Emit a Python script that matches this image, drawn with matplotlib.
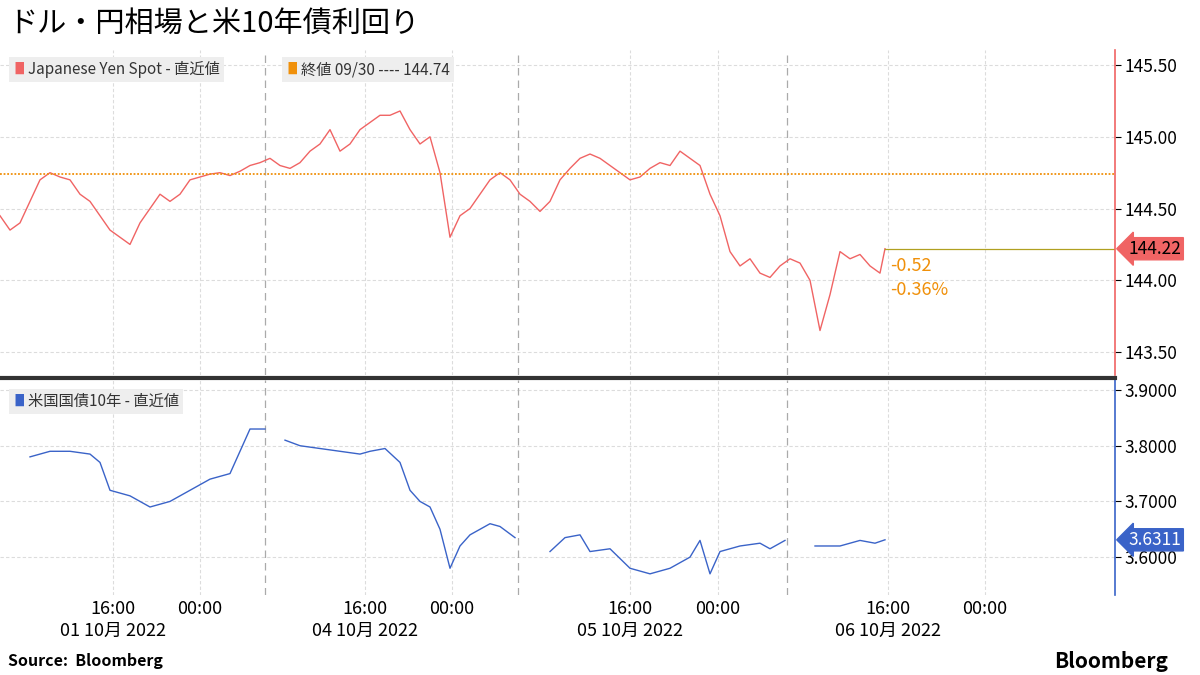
import matplotlib
matplotlib.use("Agg")
import matplotlib.pyplot as plt

plt.rcParams['font.family'] = ['Noto Sans CJK JP', 'DejaVu Sans']

yen_x = list(range(0, 890, 10)) + [885]
yen_y = [144.45,144.35,144.4,144.55,144.7,144.75,144.72,144.7,144.6,144.55,144.45,144.35,144.3,144.25,144.4,144.5,
         144.6,144.55,144.6,144.7,144.72,144.74,144.75,144.73,144.76,144.8,144.82,144.85,144.8,144.78,144.82,144.9,
         144.95,145.05,144.9,144.95,145.05,145.1,145.15,145.15,145.18,145.05,144.95,145.0,144.75,144.3,144.45,144.5,
         144.6,144.7,144.75,144.7,144.6,144.55,144.48,144.55,144.7,144.78,144.85,144.88,144.85,144.8,144.75,144.7,
         144.72,144.78,144.82,144.8,144.9,144.85,144.8,144.6,144.45,144.2,144.1,144.15,144.05,144.02,144.1,144.15,
         144.12,144.0,143.65,143.9,144.2,144.15,144.18,144.1,144.05,144.22]

ust_segments = [
    ([30,50,70,90,100,110,130,150,170,190,210,230,240,250,265],
     [3.78,3.79,3.79,3.785,3.77,3.72,3.71,3.69,3.70,3.72,3.74,3.75,3.79,3.83,3.83]),
    ([285,300,320,340,360,370,385,400,410,420,430,440,450,460,470,480,490,500,515],
     [3.81,3.80,3.795,3.79,3.785,3.79,3.795,3.77,3.72,3.70,3.69,3.65,3.58,3.62,3.64,3.65,3.66,3.655,3.635]),
    ([550,565,580,590,610,630,650,670,690,700,710,720,740,760,770,785],
     [3.61,3.635,3.64,3.61,3.615,3.58,3.57,3.58,3.60,3.63,3.57,3.61,3.62,3.625,3.615,3.63]),
    ([815,840,860,875,885], [3.62,3.62,3.63,3.625,3.6311]),
]
close_prev = 144.74
last_yen = 144.22
last_ust = 3.6311
tick_pos = [113, 200, 365, 452, 630, 718, 888, 985]
tick_lab = ["16:00\n01 10月 2022", "00:00", "16:00\n04 10月 2022", "00:00",
            "16:00\n05 10月 2022", "00:00", "16:00\n06 10月 2022", "00:00"]
day_sep = [265, 518, 787]

RED = "#f06464"; BLUE = "#3a63c8"; ORANGE = "#f0900a"
fig = plt.figure(figsize=(12, 6.75), dpi=100)
W, H = 1200, 675
ax1 = fig.add_axes([0, 1-375/H, 1115/W, 325/H])
ax2 = fig.add_axes([0, 1-595/H, 1115/W, 215/H])

for ax in (ax1, ax2):
    ax.set_xlim(0, 1115)
    ax.yaxis.tick_right()
    for s in ("top", "left", "bottom"):
        ax.spines[s].set_visible(False)
    ax.grid(True, color="#dcdcdc", lw=0.8, ls=(0, (3, 2)))
    for d in day_sep:
        ax.axvline(d, color="#aaaaaa", lw=0.9, ls=(0, (6, 4)))
    ax.set_xticks(tick_pos)
    ax.tick_params(axis="y", labelsize=12.5, length=4, pad=3)
    ax.tick_params(axis="x", length=0)

ax1.set_xticklabels([])
ax1.plot(yen_x, yen_y, color=RED, lw=1)
ax1.set_ylim(143.34, 145.605)
ax1.set_yticks([143.5, 144.0, 144.5, 145.0, 145.5])
ax1.set_yticklabels(["143.50", "144.00", "144.50", "145.00", "145.50"])
ax1.spines["right"].set_color(RED)
ax1.spines["right"].set_linewidth(1.2)
ax1.axhline(close_prev, color=ORANGE, lw=1.3, ls=(0, (1, 1)))
ax1.plot([885, 1115], [last_yen, last_yen], color="#b0a020", lw=0.9)
ax1.text(1.012, last_yen, f"{last_yen:.2f}", fontsize=12.5, va="center", ha="left",
         transform=ax1.get_yaxis_transform(), color="black", clip_on=False,
         bbox=dict(boxstyle="larrow,pad=0.12", fc=RED, ec=RED))
ax1.text(890, 144.1, f"{last_yen-close_prev:.2f}", color=ORANGE, fontsize=13, va="center")
ax1.text(890, 143.93, f"{(last_yen-close_prev)/close_prev*100:.2f}%", color=ORANGE, fontsize=13, va="center")

def legend(ax, x, y, color, label):
    t = ax.text(x, y, "■", color=color, fontsize=11, transform=ax.transAxes, va="center",
                bbox=dict(fc="#eeeeee", ec="none", pad=3))
    ax.text(x + 0.013, y, label, fontsize=11, transform=ax.transAxes, va="center",
            color="#333333", bbox=dict(fc="#eeeeee", ec="none", pad=3))

legend(ax1, 0.012, 0.94, RED, "Japanese Yen Spot - 直近値")
legend(ax1, 0.257, 0.94, ORANGE, "終値 09/30 ---- 144.74")

for xs, ys in ust_segments:
    ax2.plot(xs, ys, color=BLUE, lw=1)
ax2.set_ylim(3.532, 3.918)
ax2.set_yticks([3.6, 3.7, 3.8, 3.9])
ax2.set_yticklabels(["3.6000", "3.7000", "3.8000", "3.9000"])
ax2.spines["right"].set_color(BLUE)
ax2.spines["right"].set_linewidth(1.2)
ax2.set_xticklabels(tick_lab, fontsize=13, linespacing=1.3)
ax2.text(1.012, last_ust, f"{last_ust:.4f}", fontsize=12.5, va="center", ha="left",
         transform=ax2.get_yaxis_transform(), color="white", clip_on=False,
         bbox=dict(boxstyle="larrow,pad=0.12", fc=BLUE, ec=BLUE))
legend(ax2, 0.012, 0.9, BLUE, "米国国債10年 - 直近値")

fig.add_artist(plt.Line2D([0, 1115/W], [1-377.5/H]*2, color="#333333", lw=3))
fig.text(8/W, 1-25/H, "ドル・円相場と米10年債利回り", fontsize=21, va="center")
fig.text(8/W, 1-661/H, "Source:  Bloomberg", fontsize=11.5, fontweight="bold", va="center")
fig.text(1168/W, 1-661/H, "Bloomberg", fontsize=15, fontweight="bold", va="center", ha="right")
fig.savefig("out.png", dpi=100)
